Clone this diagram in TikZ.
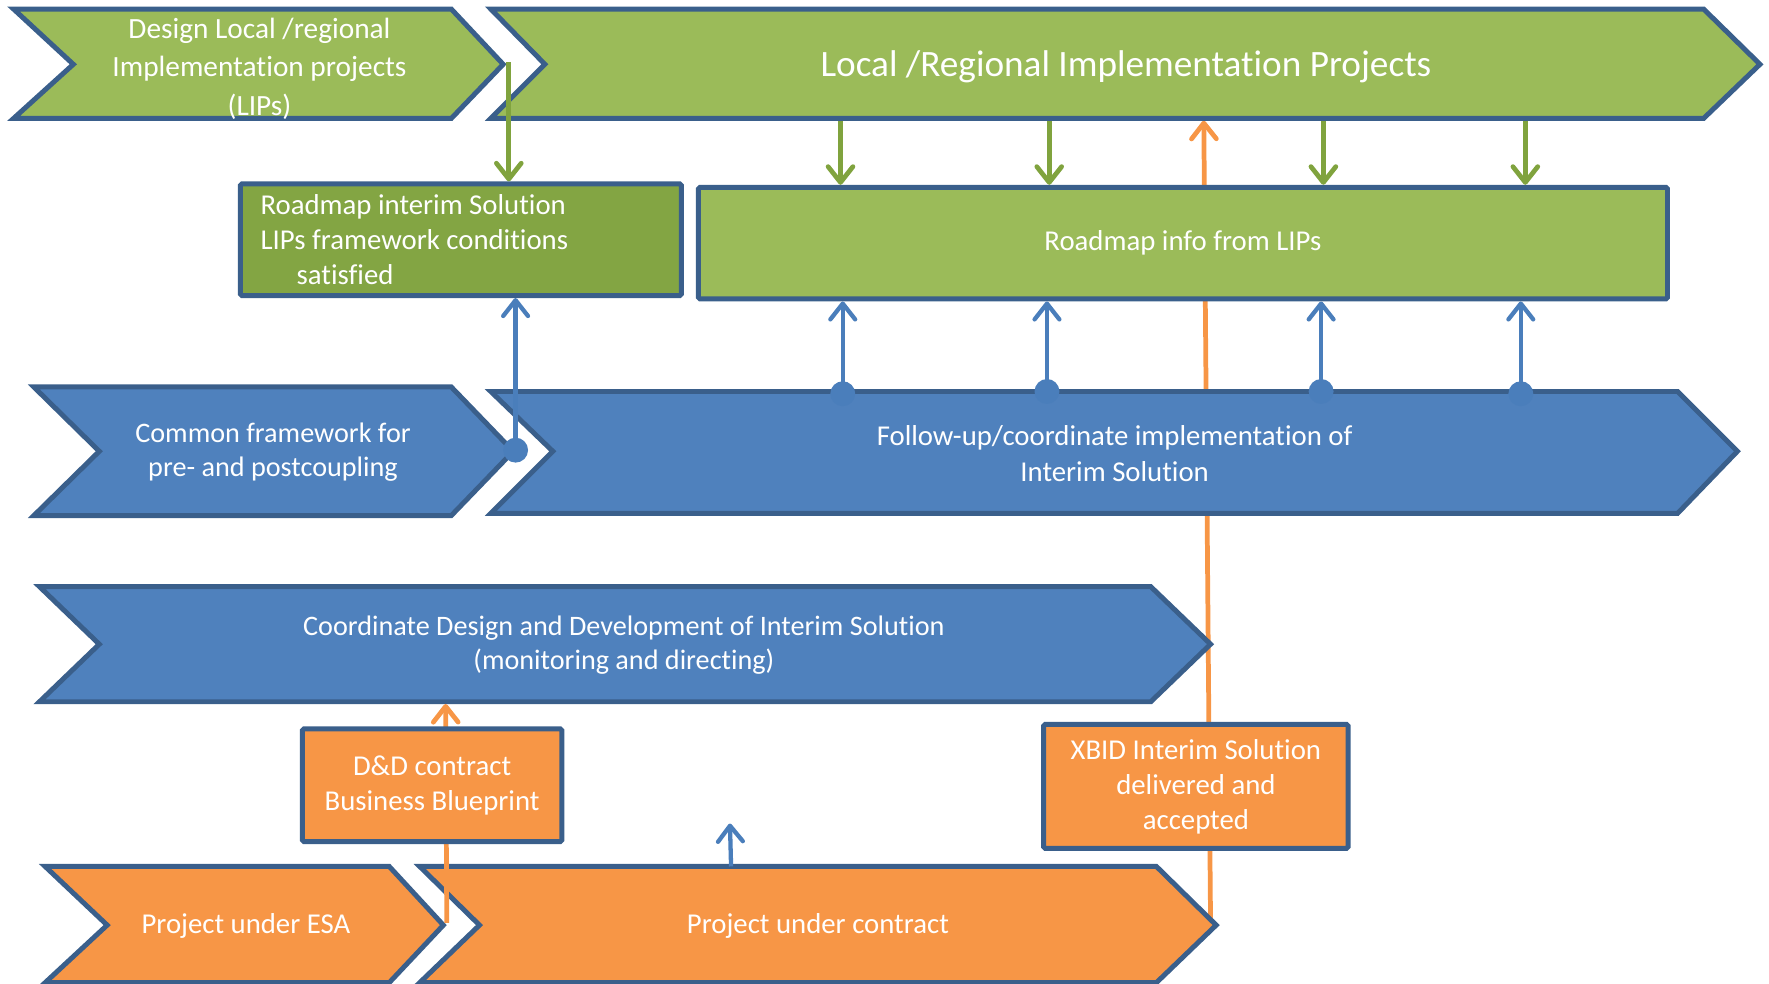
\documentclass[tikz,border=0pt]{standalone}
\usepackage{fontspec}
\setmainfont{Carlito}[Ligatures=CommonOff]
\usetikzlibrary{arrows.meta}
\definecolor{gfill}{HTML}{9BBB59}
\definecolor{gdark}{HTML}{83A543}
\definecolor{bfill}{HTML}{4F81BD}
\definecolor{ofill}{HTML}{F79646}
\definecolor{outl}{HTML}{3A5F8B}
\definecolor{garr}{HTML}{80A33E}
\definecolor{barr}{HTML}{4A7EBB}
\tikzset{
  chev/.style={draw=outl, line width=4.4pt, line join=miter},
  lbl/.style={text=white, align=center, inner sep=0pt, font=\fontsize{25.5}{31}\selectfont},
  boxnode/.style={draw=outl, line width=4.4pt, rounded corners=1.5pt, text=white, align=center, inner sep=0pt, font=\fontsize{25.5}{31}\selectfont},
  barb/.style={Straight Barb[length=14pt,width=22pt,round]},
  garrow/.style={draw=garr, line width=4.2pt, -{Straight Barb[length=14pt,width=22pt,round]}},
  barrow/.style={draw=barr, line width=3.8pt, {Circle[length=22pt,width=22pt]}-{Straight Barb[length=14pt,width=22pt,round]}},
  barrowplain/.style={draw=barr, line width=3.8pt, -{Straight Barb[length=14pt,width=22pt,round]}},
  oarrow/.style={draw=ofill, line width=4.2pt, -{Straight Barb[length=14pt,width=22pt,round]}},
}
\begin{document}
\begin{tikzpicture}[x=1pt,y=-1pt]
\useasboundingbox (0,0) rectangle (1568,872);
% long orange line (behind everything)
\coordinate (oK) at (1073,818);
\coordinate (oTop) at (1067,107);
\draw[oarrow] (oK) -- (oTop);

% Row 1: green chevrons
\path[chev, fill=gfill] (12,8) -- (400,8) -- (446,57) -- (400,105) -- (12,105) -- (65,57) -- cycle;
\node[lbl, font=\fontsize{26}{34.5}\selectfont] (tA) at (230,61) {Design Local /regional\\Implementation projects\\(LIPs)};
\path[chev, fill=gfill] (435,8) -- (1510,8) -- (1560,57) -- (1510,105) -- (435,105) -- (483,57) -- cycle;
\node[lbl, font=\fontsize{33}{40}\selectfont] (tB) at (998,59) {Local /Regional Implementation Projects};

% Row 3: blue chevrons
\path[chev, fill=bfill] (30,343) -- (400,343) -- (455,400) -- (400,457) -- (30,457) -- (88,400) -- cycle;
\node[lbl, font=\fontsize{25}{30}\selectfont] (tE) at (242,401) {Common framework for\\pre- and postcoupling};
\path[chev, fill=bfill] (435,347) -- (1487,347) -- (1540,400) -- (1487,455) -- (435,455) -- (490,400) -- cycle;
\node[lbl, font=\fontsize{25.5}{32}\selectfont] (tF) at (988,402) {Follow-up/coordinate implementation of\\Interim Solution};

% Row 4: blue chevron
\path[chev, fill=bfill] (35,520) -- (1020,520) -- (1073,571) -- (1020,622) -- (35,622) -- (88,571) -- cycle;
\node[lbl, font=\fontsize{25}{30}\selectfont] (tG) at (553,572) {Coordinate Design and Development of Interim Solution\\(monitoring and directing)};

% Row 5: orange chevrons
\path[chev, fill=ofill] (40,768) -- (345,768) -- (393,820) -- (345,871) -- (40,871) -- (95,820) -- cycle;
\node[lbl] (tJ) at (218,821) {Project under ESA};
\path[chev, fill=ofill] (372,768) -- (1025,768) -- (1078,820) -- (1025,871) -- (372,871) -- (425,820) -- cycle;
\node[lbl] (tK) at (725,821) {Project under contract};

% Row 2 boxes
\node[boxnode, fill=gdark, minimum width=391pt, minimum height=99pt, text width=355pt, align=flush left] (boxC) at (408.5,212.5)
  {Roadmap interim Solution\\LIPs framework conditions\\\hspace*{32pt}satisfied};
\node[boxnode, fill=gfill, minimum width=859pt, minimum height=99pt] (boxD) at (1048.5,215.5) {Roadmap info from LIPs};

% green arrows
\coordinate (gA) at (451,55);
\draw[garrow] (gA) -- (gA |- boxC.north);
\coordinate (g2) at (745,107);
\coordinate (g3) at (930,107);
\coordinate (g4) at (1173,107);
\coordinate (g5) at (1352,107);
\draw[garrow] (g2) -- (g2 |- boxD.north);
\draw[garrow] (g3) -- (g3 |- boxD.north);
\draw[garrow] (g4) -- (g4 |- boxD.north);
\draw[garrow] (g5) -- (g5 |- boxD.north);

% blue arrows
\coordinate (bE) at (457,410);
\draw[barrow] (bE) -- (bE |- boxC.south);
\coordinate (b2) at (747,360);
\coordinate (b3) at (928,358);
\coordinate (b4) at (1171,358);
\coordinate (b5) at (1348,360);
\draw[barrow] (b2) -- (b2 |- boxD.south);
\draw[barrow] (b3) -- (b3 |- boxD.south);
\draw[barrow] (b4) -- (b4 |- boxD.south);
\draw[barrow] (b5) -- (b5 |- boxD.south);

% short orange arrow and blue arrow
\coordinate (oJ) at (396,818);
\coordinate (oG) at (395,624);
\draw[oarrow] (oJ) -- (oG);
\coordinate (bK) at (648,768);
\coordinate (bKt) at (647,730);
\draw[barrowplain] (bK) -- (bKt);

% orange boxes
\node[boxnode, fill=ofill, minimum width=230pt, minimum height=100pt] (boxH) at (383,696) {D\&D contract\\Business Blueprint};
\node[boxnode, fill=ofill, minimum width=270pt, minimum height=110pt] (boxI) at (1060,697) {XBID Interim Solution\\delivered and\\accepted};
\end{tikzpicture}
\end{document}
